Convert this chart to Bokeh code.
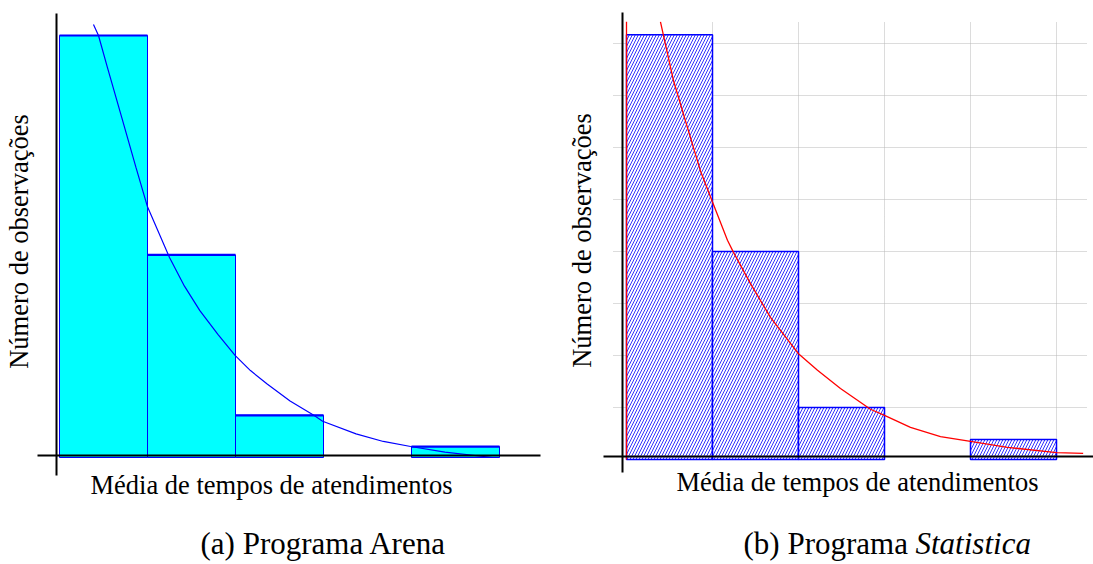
import math
from bokeh.plotting import figure
from bokeh.layouts import row
from bokeh.models import Label, Grid, FixedTicker
from bokeh.embed import file_html
from bokeh.resources import INLINE

# ---------------- data ----------------
bin_edges = [0, 1, 2, 3, 4, 5]

# (a) Programa Arena
arena_counts = [50, 24, 5, 0, 1.3]
arena_curve_x = [0.386, 0.443, 0.545, 0.707, 0.868, 1.0, 1.25, 1.42, 1.595, 1.8,
                 1.995, 2.17, 2.36, 2.62, 2.89, 2.99, 3.37, 3.68, 3.99, 4.38, 4.92]
arena_curve_y = [51.3, 50.0, 46.2, 40.3, 34.4, 29.7, 23.7, 20.3, 17.4, 14.6,
                 12.1, 10.3, 8.7, 6.7, 5.0, 4.3, 2.8, 1.9, 1.3, 0.63, 0.0]

# (b) Programa Statistica
stat_counts = [49, 24, 6, 0, 2.3]
stat_curve_x = [0, 0, float("nan"), 0.395, 0.547, 0.709, 0.86, 1.0, 1.174, 1.244,
                1.442, 1.674, 1.907, 2.0, 2.221, 2.488, 2.837, 3.0, 3.302,
                3.651, 4.0, 4.43, 5.0, 5.31]
stat_curve_y = [0, 50.5, float("nan"), 50.5, 43.7, 38.3, 33.3, 29.7, 25.3, 23.9,
                20.3, 16.4, 13.4, 12.2, 10.3, 8.2, 5.8, 5.1, 3.7,
                2.65, 2.1, 1.4, 0.8, 0.7]
stat_grid_x = [1, 2, 3, 4, 5]
stat_grid_y = [6, 12, 18, 24, 30, 36, 42, 48]

y_label = "Número de observações"
x_label = "Média de tempos de atendimentos"
cap_a = "(a) Programa Arena"
cap_b1 = "(b) Programa"
cap_b2 = "Statistica"

FONT = "Liberation Serif"
LBL_SIZE = "26.5px"
CAP_SIZE = "31px"

# ---------------- layout helpers (canvas pixel -> data) ----------------
L_X0, L_BW, L_Y0, L_YS = 59.0, 88.0, 457.0, 8.44
def lx(px): return (px - L_X0) / L_BW
def ly(py): return (L_Y0 - py) / L_YS

R_X0, R_BW, R_Y0, R_YS = 626.0, 86.0, 459.0, 52.0 / 6.0
def rx(px): return (px - R_X0) / R_BW
def ry(py): return (R_Y0 - py) / R_YS

def nonzero(counts):
    idx = [i for i, c in enumerate(counts) if c > 0]
    return ([bin_edges[i] for i in idx], [bin_edges[i + 1] for i in idx],
            [counts[i] for i in idx])

def label(fig, x, y, text, size, align="center", angle=0.0, style="normal"):
    fig.add_layout(Label(x=x, y=y, text=text, angle=angle,
                         text_align=align, text_baseline="alphabetic",
                         text_font=FONT, text_font_size=size,
                         text_font_style=style, text_color="black"))

def axis_line(fig, dim, loc, cross):
    fig.add_layout(Grid(dimension=dim, ticker=FixedTicker(ticks=[loc]),
                        cross_bounds=cross, grid_line_color="black",
                        grid_line_width=2, level="overlay"), "center")

def make_fig(width, xr, yr):
    p = figure(width=width, height=564, x_range=xr, y_range=yr,
               min_border_left=0, min_border_right=0,
               min_border_top=0, min_border_bottom=0,
               x_axis_location=None, y_axis_location=None,
               toolbar_location=None, output_backend="svg",
               outline_line_color=None, background_fill_color="white",
               border_fill_color="white")
    p.grid.visible = False
    return p

# ---------------- (a) Arena ----------------
p1 = make_fig(560, (lx(0), lx(560)), (ly(564), ly(0)))

la, ra, ca = nonzero(arena_counts)
p1.quad(left=la, right=ra, bottom=0, top=ca,
        fill_color="#00ffff", line_color="#0000ff", line_width=1)
p1.segment(x0=la, x1=ra, y0=ca, y1=ca, line_color="#0000ff", line_width=2.2)
p1.line(arena_curve_x, arena_curve_y, line_color="#0000ff", line_width=1.2)

axis_line(p1, 0, lx(56), (ly(475), ly(13)))
axis_line(p1, 1, ly(455), (lx(37), lx(540)))

label(p1, lx(18), ly(241), y_label, LBL_SIZE, angle=math.pi / 2)
label(p1, lx(271), ly(484), x_label, LBL_SIZE)
label(p1, lx(200), ly(543), cap_a, CAP_SIZE, align="left")

# ---------------- (b) Statistica ----------------
p2 = make_fig(533, (rx(560), rx(1093)), (ry(564), ry(0)))

gy = Grid(dimension=1, ticker=FixedTicker(ticks=stat_grid_y),
          cross_bounds=(rx(613), rx(1087)),
          grid_line_color="#b8b8b8", grid_line_dash="1 1", grid_line_width=1)
gx = Grid(dimension=0, ticker=FixedTicker(ticks=stat_grid_x),
          cross_bounds=(0, ry(21)),
          grid_line_color="#b8b8b8", grid_line_dash="1 1", grid_line_width=1)
p2.add_layout(gy, "center")
p2.add_layout(gx, "center")

ls, rs, cs = nonzero(stat_counts)
p2.quad(left=ls, right=rs, bottom=0, top=cs,
        fill_color="white", line_color="#0000ff", line_width=1.5,
        hatch_pattern="/", hatch_color="#0000ff", hatch_scale=6,
        hatch_weight=1, hatch_alpha=0.8)
p2.line(stat_curve_x, stat_curve_y, line_color="#ff0000", line_width=1.3)

axis_line(p2, 0, rx(622), (ry(472), ry(12)))
axis_line(p2, 1, ry(456), (rx(603), rx(1093)))

label(p2, rx(581), ry(240), y_label, LBL_SIZE, angle=math.pi / 2)
label(p2, rx(857), ry(481), x_label, LBL_SIZE)
label(p2, rx(743), ry(543), cap_b1, CAP_SIZE, align="left")
label(p2, rx(915), ry(543), cap_b2, CAP_SIZE, align="left", style="italic")

layout = row(p1, p2)
open("out.html", "w").write(file_html(layout, INLINE))
